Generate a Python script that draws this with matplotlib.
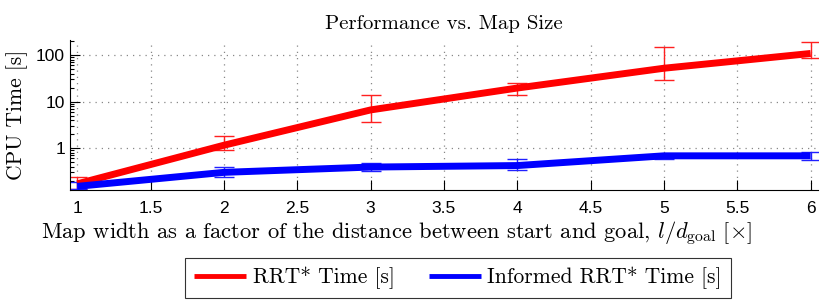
import matplotlib
matplotlib.use("Agg")
import matplotlib.pyplot as plt
from matplotlib.ticker import FixedLocator, FixedFormatter, LogLocator, NullFormatter

plt.rcParams['mathtext.fontset'] = 'cm'
plt.rcParams['axes.unicode_minus'] = False

# map width factors
widths = [1, 2, 3, 4, 5, 6]

# RRT* mean time and error bar bounds (s)
rrt_time = [0.17, 1.15, 6.6, 19.5, 52, 108]
rrt_low = [0.13, 0.90, 3.7, 14.0, 29, 88]
rrt_high = [0.24, 1.85, 13.5, 25.0, 150, 190]

# Informed RRT* mean time and error bar bounds (s)
inf_time = [0.15, 0.30, 0.39, 0.42, 0.68, 0.68]
inf_low = [0.13, 0.24, 0.32, 0.33, 0.57, 0.55]
inf_high = [0.19, 0.39, 0.48, 0.57, 0.76, 0.82]

xticks = [1, 1.5, 2, 2.5, 3, 3.5, 4, 4.5, 5, 5.5, 6]
xticklabels = ['1', '1.5', '2', '2.5', '3', '3.5', '4', '4.5', '5', '5.5', '6']

fig = plt.figure(figsize=(8.3, 3.08), dpi=100)
ax = fig.add_axes([0.0843, 0.383, 0.9012, 0.487])

def err(mid, lo, hi):
    return [[m - l for m, l in zip(mid, lo)], [h - m for m, h in zip(mid, hi)]]

ax.errorbar(widths, rrt_time, yerr=err(rrt_time, rrt_low, rrt_high), fmt='none',
            ecolor='#ff2020', elinewidth=1.0, capsize=7, capthick=1.0, zorder=2)
ax.errorbar(widths, inf_time, yerr=err(inf_time, inf_low, inf_high), fmt='none',
            ecolor='#2020ff', elinewidth=1.0, capsize=7, capthick=1.0, zorder=2)
l1, = ax.plot(widths, rrt_time, color='#ff0000', lw=5, solid_capstyle='butt', zorder=3)
l2, = ax.plot(widths, inf_time, color='#0000ff', lw=5, solid_capstyle='butt', zorder=3)

ax.set_yscale('log')
ax.set_ylim(0.125, 210)
ax.set_xlim(0.95, 6.05)

ax.yaxis.set_major_locator(FixedLocator([1, 10, 100]))
ax.yaxis.set_major_formatter(FixedFormatter(['1', '10', '100']))
ax.yaxis.set_minor_locator(LogLocator(base=10, subs=range(2, 10)))
ax.yaxis.set_minor_formatter(NullFormatter())
ax.set_xticks(xticks)
ax.set_xticklabels(xticklabels)

ax.grid(True, which='major', linestyle=(0, (1, 4)), color='#888888', linewidth=0.9)
ax.spines['top'].set_visible(False)
ax.spines['right'].set_visible(False)
ax.tick_params(direction='in', which='both', labelsize=12.5, length=7, width=0.8)
ax.tick_params(which='minor', length=3)
ax.tick_params(axis='x', pad=8)
for lab in ax.get_xticklabels() + ax.get_yticklabels():
    lab.set_fontfamily('Liberation Sans')

ax.set_title('Performance vs. Map Size', fontdict={'family': 'cmr10', 'size': 15}, pad=8)
ax.set_ylabel('CPU Time [s]', fontdict={'family': 'cmr10', 'size': 15.5}, labelpad=6)
ax.set_xlabel(r'Map width as a factor of the distance between start and goal, $l/d_{\mathrm{goal}}\ [\times]$',
              fontdict={'family': 'cmr10', 'size': 16.2}, labelpad=2)
ax.xaxis.set_label_coords(0.437, -0.2)

leg = fig.legend([l1, l2], ['RRT* Time [s]', 'Informed RRT* Time [s]'], loc='center',
                 bbox_to_anchor=(458 / 830, 1 - 278 / 308), ncol=2, frameon=True, fancybox=False,
                 prop={'family': 'cmr10', 'size': 15.5}, handlelength=2.4, handletextpad=0.3,
                 columnspacing=1.6, borderpad=0.42, borderaxespad=0)
leg.get_frame().set_edgecolor('black')
leg.get_frame().set_linewidth(0.8)
for h in leg.legend_handles:
    h.set_linewidth(3.5)

fig.savefig('out.png', dpi=100)
